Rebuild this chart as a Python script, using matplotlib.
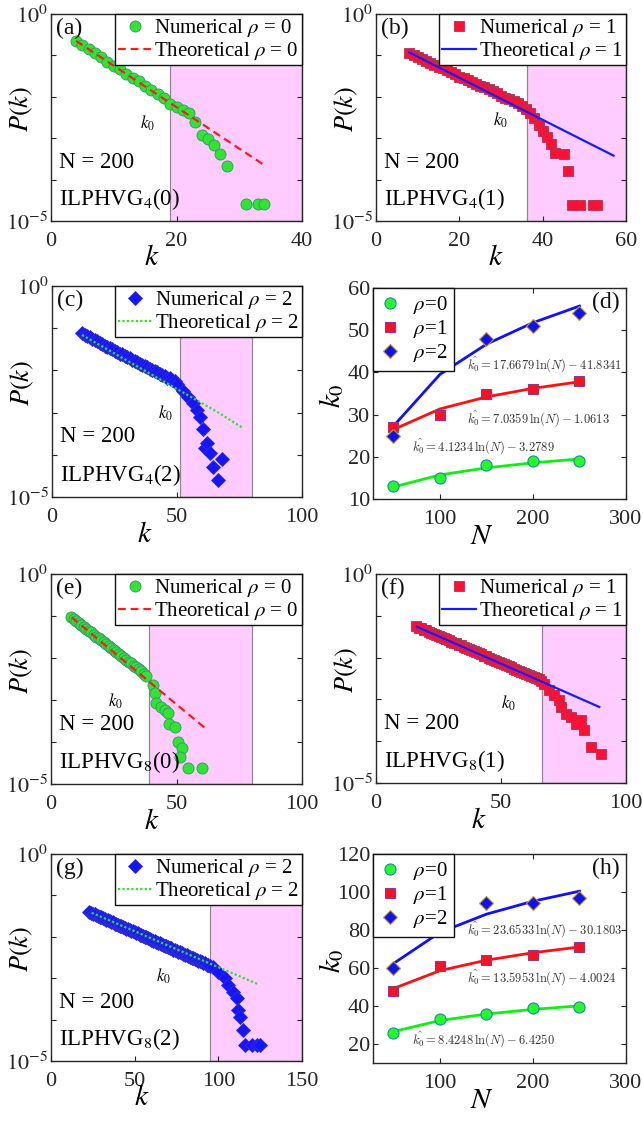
import matplotlib
matplotlib.use('Agg')
import matplotlib.pyplot as plt
from matplotlib.ticker import NullLocator
import numpy as np

plt.rcParams['font.family'] = ['Liberation Serif', 'DejaVu Serif']
plt.rcParams['mathtext.fontset'] = 'stix'

# ---- degree distributions, values as log10 P(k) ----
# (a) ILPHVG_4(0)
k_a = [4, 5, 6, 7, 8, 9, 10, 11, 12, 13, 14, 15, 16, 17, 18, 19,
       20, 21, 22, 23, 24, 25, 26, 27, 28, 31, 33, 34]
lp_a = [-0.65, -0.74, -0.84, -0.95, -1.04, -1.15, -1.25, -1.34, -1.45, -1.55,
        -1.63, -1.74, -1.83, -1.93, -2.02, -2.17,
        -2.24, -2.32, -2.40, -2.60, -2.92, -3.03, -3.16, -3.38, -3.66, -4.59, -4.59, -4.59]
theo_k_a = [4, 34]
theo_lp_a = [-0.65, -3.65]

# (b) ILPHVG_4(1)
k_b = list(range(8, 37)) + [37, 38, 39, 40, 41, 42, 43, 45, 46, 47, 49, 52, 53]
lp_b = [-0.95, -1.00, -1.04, -1.09, -1.13, -1.18, -1.22, -1.27, -1.31, -1.36,
        -1.40, -1.46, -1.51, -1.55, -1.60, -1.64, -1.68, -1.73, -1.76, -1.82,
        -1.86, -1.92, -1.97, -2.02, -2.06, -2.11, -2.16, -2.22, -2.30,
        -2.40, -2.52, -2.68, -2.82, -2.98, -3.14, -3.36, -3.38, -3.80,
        -4.61, -4.61, -4.61, -4.61]
theo_k_b = [8, 57]
theo_lp_b = [-0.93, -3.42]

# (c) ILPHVG_4(2)
k_c = list(range(12, 51)) + [52.5, 54.5, 56.5, 58, 59, 60.5, 61, 62, 63, 64.5, 66.5, 68]
lp_c = [-1.12, -1.16, -1.19, -1.21, -1.25, -1.28, -1.31, -1.35, -1.37, -1.41,
        -1.44, -1.46, -1.50, -1.53, -1.56, -1.60, -1.62, -1.65, -1.69, -1.71,
        -1.75, -1.78, -1.80, -1.84, -1.87, -1.89, -1.93, -1.96, -1.99, -2.02,
        -2.04, -2.08, -2.10, -2.14, -2.17, -2.19, -2.23, -2.26, -2.32,
        -2.50, -2.62, -2.78, -2.94, -3.10, -3.40, -3.85, -3.71, -3.96, -4.30, -4.60, -4.11]
theo_k_c = [12, 66, 76.5]
theo_lp_c = [-1.16, -2.98, -3.37]

# (e) ILPHVG_8(0)
k_e = list(range(8, 39)) + [40.5, 41.5, 42, 44, 45.5, 46.5, 47, 49.5, 50.5, 52, 51.5, 54.5, 60]
lp_e = [-1.02, -1.07, -1.11, -1.17, -1.21, -1.25, -1.31, -1.35, -1.39, -1.45,
        -1.49, -1.53, -1.58, -1.63, -1.67, -1.72, -1.77, -1.81, -1.86, -1.91,
        -1.95, -2.00, -2.05, -2.09, -2.13, -2.18, -2.22, -2.27, -2.32, -2.37, -2.44,
        -2.64, -2.84, -3.08, -3.16, -3.24, -3.32, -3.56, -3.64, -3.99, -4.15, -4.35, -4.63, -4.63]
theo_k_e = [8.2, 61.4]
theo_lp_e = [-1.03, -3.67]

# (f) ILPHVG_8(1)
k_f = list(range(16, 67)) + [67, 69, 71, 73, 74, 76, 78, 80, 82, 83, 86, 90]
lp_f = [-1.25, -1.28, -1.30, -1.33, -1.35, -1.38, -1.40, -1.43, -1.45, -1.49,
        -1.51, -1.53, -1.56, -1.58, -1.62, -1.64, -1.66, -1.69, -1.71, -1.75,
        -1.77, -1.79, -1.82, -1.84, -1.87, -1.90, -1.92, -1.95, -1.97, -2.01,
        -2.03, -2.05, -2.08, -2.10, -2.13, -2.16, -2.18, -2.21, -2.23, -2.27,
        -2.29, -2.31, -2.34, -2.36, -2.39, -2.42, -2.44, -2.47, -2.49, -2.52, -2.56,
        -2.62, -2.78, -2.90, -3.02, -3.18, -3.34, -3.42, -3.58, -3.50, -3.74, -4.14, -4.30]
theo_k_f = [16.3, 89.3]
theo_lp_f = [-1.26, -3.18]

# (g) ILPHVG_8(2)
k_g = list(range(23, 96)) + [97, 100, 104, 106, 109, 111, 112, 113, 115, 116, 120, 123, 125]
lp_g = [-1.40, -1.43, -1.44, -1.46, -1.47, -1.50, -1.51, -1.53, -1.55, -1.56,
        -1.59, -1.60, -1.62, -1.64, -1.65, -1.68, -1.69, -1.71, -1.73, -1.74,
        -1.77, -1.78, -1.80, -1.82, -1.83, -1.86, -1.87, -1.89, -1.91, -1.92,
        -1.95, -1.96, -1.98, -2.00, -2.01, -2.04, -2.05, -2.07, -2.09, -2.10,
        -2.13, -2.14, -2.16, -2.18, -2.19, -2.22, -2.23, -2.25, -2.27, -2.28,
        -2.31, -2.32, -2.34, -2.36, -2.37, -2.40, -2.41, -2.43, -2.45, -2.46,
        -2.49, -2.50, -2.52, -2.54, -2.55, -2.58, -2.59, -2.61, -2.63, -2.64,
        -2.67, -2.68, -2.70,
        -2.72, -2.84, -3.00, -3.16, -3.33, -3.49, -3.77, -3.93, -4.25, -4.61, -4.61, -4.61, -4.61]
theo_k_g = [24.3, 124]
theo_lp_g = [-1.42, -3.15]

# ---- k0 versus N ----
N_vals = [50, 100, 150, 200, 250]
k0_d = {0: [13, 15, 18, 19, 19], 1: [27, 30, 35, 36, 38], 2: [25, 43, 48, 51, 54]}
fit_d = {0: [12.85, 15.71, 17.38, 18.57, 19.49],
         1: [26.46, 31.34, 34.19, 36.22, 37.78],
         2: [27.28, 39.53, 46.69, 51.78, 55.72]}
eq_d = {0: r'$\hat{k_0} = 4.1234\,\ln(N) - 3.2789$',
        1: r'$\hat{k_0} = 7.0359\,\ln(N) - 1.0613$',
        2: r'$\hat{k_0} = 17.6679\,\ln(N) - 41.8341$'}
k0_h = {0: [26, 33, 36, 39, 39.5], 1: [48, 61, 64, 67, 71], 2: [60, 80, 94, 94, 97]}
fit_h = {0: [26.53, 32.37, 35.79, 38.21, 40.09],
         1: [49.18, 58.61, 64.12, 68.03, 71.06],
         2: [62.35, 78.75, 88.34, 95.14, 100.42]}
eq_h = {0: r'$\hat{k_0} = 8.4248\,\ln(N) - 6.4250$',
        1: r'$\hat{k_0} = 13.5953\,\ln(N) - 4.0024$',
        2: r'$\hat{k_0} = 23.6533\,\ln(N) - 30.1803$'}

W, H = 643, 1122
fig = plt.figure(figsize=(W / 100, H / 100), dpi=100)

def axes_px(l, r, t, b):
    return fig.add_axes([l / W, 1 - b / H, (r - l) / W, (b - t) / H])

TXT = '#262626'
styles = {
    0: dict(marker='o', ms=8, mfc='#2ee62e', mec='#3a8f7a', mew=0.6),
    1: dict(marker='s', ms=7.5, mfc='#ff1030', mec='#b0305a', mew=0.6),
    2: dict(marker='D', ms=7.5, mfc='#1414ff', mec='#3030d0', mew=0.6),
}
theo_styles = {
    0: dict(color='#ff1a1a', ls=(0, (3.5, 2.2)), lw=1.6),
    1: dict(color='#1a1aff', ls='-', lw=1.6),
    2: dict(color='#33dd33', ls=(0, (1, 1)), lw=1.6),
}

def style_axes(ax):
    for s in ax.spines.values():
        s.set_color(TXT)
        s.set_linewidth(1.0)
    ax.tick_params(direction='in', top=True, right=True, length=3.5, width=0.8,
                   labelsize=16, colors=TXT)
    ax.tick_params(axis='x', pad=8)
    ax.tick_params(axis='y', pad=2)

def degree_panel(box, k, lp, tk, tlp, rho, xmax, xticks, k0, shade_end, k0_pos, sub, letter, xlab_x):
    ax = axes_px(*box)
    ax.axvspan(k0, shade_end, facecolor='#ffccff', edgecolor='#8a8a8a', lw=0.9, zorder=0)
    pts, = ax.plot(k, 10 ** np.array(lp), ls='none', zorder=2, **styles[rho])
    ln, = ax.plot(tk, 10 ** np.array(tlp), zorder=3, **theo_styles[rho])
    ax.set_yscale('log')
    ax.set_xlim(0, xmax)
    ax.set_ylim(1e-5, 1)
    ax.set_xticks(xticks)
    ax.set_yticks([1e-5, 1e-4, 1e-3, 1e-2, 1e-1, 1])
    ax.set_yticklabels([r'$10^{-5}$', '', '', '', '', r'$10^{0}$'])
    ax.yaxis.set_minor_locator(NullLocator())
    style_axes(ax)
    leg = ax.legend([pts, ln], [r'Numerical $\rho$ = %d' % rho, r'Theoretical $\rho$ = %d' % rho],
                    loc='upper right', borderaxespad=0, fontsize=15, fancybox=False,
                    handlelength=1.6, handletextpad=0.15, labelspacing=0.05,
                    borderpad=0.15, framealpha=1)
    leg.get_frame().set_edgecolor('#111111')
    leg.get_frame().set_linewidth(1.0)
    ax.text(0.02, 0.93, '(%s)' % letter, transform=ax.transAxes, fontsize=17,
            va='center', ha='left', color='#111111')
    ax.text(k0_pos[0], 10 ** k0_pos[1], r'$k_0$', fontsize=12, ha='center', va='center')
    ax.text(0.03, 0.285, 'N = 200', transform=ax.transAxes, fontsize=16.5, va='center')
    ax.text(0.03, 0.105, r'ILPHVG$_\mathrm{%d}$(%d)' % (sub, rho), transform=ax.transAxes,
            fontsize=16.5, va='center')
    ax.text(xlab_x, -0.18, r'$k$', transform=ax.transAxes, fontsize=21, ha='center', va='center')
    ax.text(-0.12, 0.54, r'$P(k)$', transform=ax.transAxes, fontsize=19, rotation=90,
            ha='center', va='center')
    return ax

def k0_panel(box, k0s, fits, eqs, ylim, yticks, eq_pos, letter):
    ax = axes_px(*box)
    fit_cols = {0: '#11ee11', 1: '#ff1010', 2: '#1010ff'}
    mk = {0: dict(marker='o', ms=8, mfc='#22ff22', mec='#2080c0', mew=0.8),
          1: dict(marker='s', ms=7, mfc='#ff1020', mec='#8a3a8a', mew=0.8),
          2: dict(marker='D', ms=7, mfc='#1010ff', mec='#c8a000', mew=0.8)}
    handles = []
    for rho in (0, 1, 2):
        ax.plot(N_vals, fits[rho], color=fit_cols[rho], lw=2.0, zorder=2)
        h, = ax.plot(N_vals, k0s[rho], ls='none', zorder=3, **mk[rho])
        handles.append(h)
        ax.text(eq_pos[rho][0], eq_pos[rho][1], eqs[rho], fontsize=9, math_fontfamily='cm',
                color='#333333', va='center', ha='left')
    ax.set_xlim(28, 300)
    ax.set_ylim(*ylim)
    ax.set_xticks([100, 200, 300])
    ax.set_yticks(yticks)
    style_axes(ax)
    leg = ax.legend(handles, [r'$\rho$=0', r'$\rho$=1', r'$\rho$=2'], loc='upper left',
                    borderaxespad=0, fontsize=15, fancybox=False, handlelength=1.0,
                    handletextpad=0.6, labelspacing=0.1, borderpad=0.3, framealpha=1)
    leg.get_frame().set_edgecolor('#111111')
    leg.get_frame().set_linewidth(1.0)
    ax.text(0.975, 0.93, '(%s)' % letter, transform=ax.transAxes, fontsize=17,
            va='center', ha='right', color='#111111')
    ax.text(0.43, -0.18, r'$N$', transform=ax.transAxes, fontsize=21, ha='center', va='center')
    ax.text(-0.165, 0.49, r'$k_0$', transform=ax.transAxes, fontsize=21, rotation=90,
            ha='center', va='center')
    return ax

degree_panel((51, 302, 14, 221), k_a, lp_a, theo_k_a, theo_lp_a, 0, 40, [0, 20, 40],
             19, 40, (15.3, -2.64), 4, 'a', 0.40)
degree_panel((376, 626, 14, 221), k_b, lp_b, theo_k_b, theo_lp_b, 1, 60, [0, 20, 40, 60],
             36.3, 60, (29.8, -2.56), 4, 'b', 0.48)
degree_panel((52, 302, 286, 497), k_c, lp_c, theo_k_c, theo_lp_c, 2, 100, [0, 50, 100],
             51.3, 80, (45.2, -3.02), 4, 'c', 0.37)
k0_panel((373, 626, 288, 499), k0_d, fit_d, eq_d, (10, 60), [10, 20, 30, 40, 50, 60],
         {0: (69.7, 22.4), 1: (129.4, 29.1), 2: (129.4, 41.8)}, 'd')
degree_panel((51, 302, 574, 784), k_e, lp_e, theo_k_e, theo_lp_e, 0, 100, [0, 50, 100],
             39, 80, (25.5, -3.04), 8, 'e', 0.40)
degree_panel((376, 626, 574, 783), k_f, lp_f, theo_k_f, theo_lp_f, 1, 100, [0, 50, 100],
             66.3, 100, (52.9, -3.09), 8, 'f', 0.41)
degree_panel((51, 302, 854, 1061), k_g, lp_g, theo_k_g, theo_lp_g, 2, 150, [0, 50, 100, 150],
             94.8, 150, (67.1, -2.96), 8, 'g', 0.36)
k0_panel((373, 626, 854, 1063), k0_h, fit_h, eq_h, (10, 120), [20, 40, 60, 80, 100, 120],
         {0: (69.7, 22.1), 1: (129.4, 55.1), 2: (129.4, 80.0)}, 'h')

fig.savefig('out.png', dpi=100)
